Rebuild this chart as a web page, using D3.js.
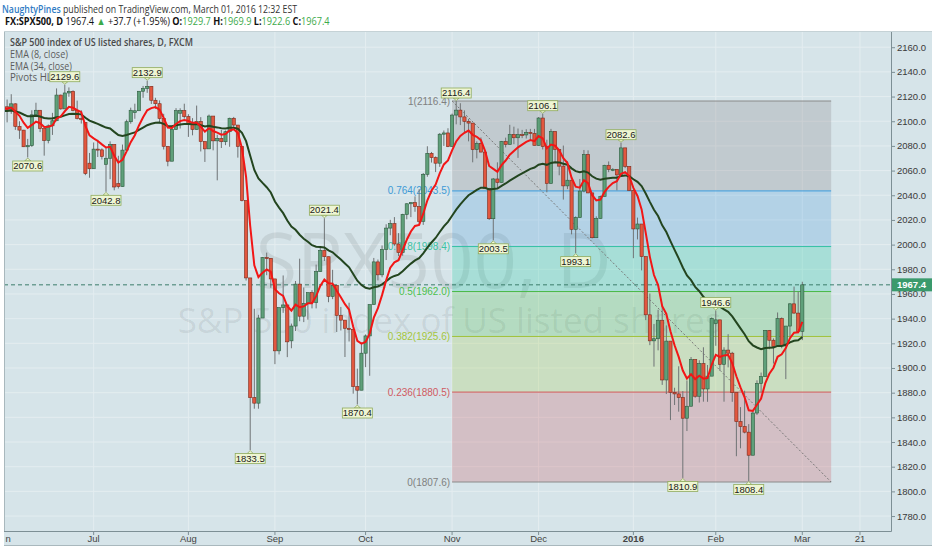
<!DOCTYPE html>
<html><head><meta charset="utf-8">
<script src="https://cdn.jsdelivr.net/npm/d3@7/dist/d3.min.js"></script>
<style>
body{margin:0;background:#fff;}
svg{display:block;}
</style></head>
<body>
<svg id="chart" width="932" height="550"></svg>
<script>
// ---------------- DATA ----------------
const firstDay = "2015-06-01";
const lastDay = "2016-03-01";
const axisEndDay = "2016-03-31";
const missingDays = ["2015-10-12", "2016-01-01"];

const opens = [
2107.4,2111.7,2109.6,2114.1,2095.8,2092.8,2079.3,2080.2,2105.2,2108.9,2094.1,2084.4,2096.3,2100.4,2121.2,2110.0,2122.9,2124.2,2108.6,2102.3,
2099.0,2066.0,2061.5,2077.4,2076.8,2065.0,2070.0,2081.3,2049.5,2047.0,2076.6,2099.6,2107.0,2108.5,2124.3,2126.6,2128.3,2117.0,2114.2,2102.2,
2079.7,2067.6,2093.3,2106.5,2108.6,2103.8,2098.0,2093.3,2099.8,2083.6,2077.6,2104.2,2084.1,2086.1,2083.4,2091.5,2102.4,2096.9,2079.6,2035.7,
1973.0,1876.0,1871.5,1940.5,1989.5,1988.9,1972.2,1913.9,1948.9,1951.1,1922.0,1934.0,1968.0,1942.0,1952.3,1961.1,1953.0,1978.1,1995.3,1990.2,
1958.0,1967.0,1942.7,1938.8,1932.2,1931.3,1885.0,1882.0,1912.0,1926.0,1951.4,1986.0,1975.5,1996.0,2013.4,2017.0,2000.5,1993.5,2024.5,2033.1,
2034.0,2030.8,2018.9,2057.0,2074.0,2070.5,2066.0,2089.5,2090.5,2079.4,2105.0,2109.0,2103.5,2099.9,2098.5,2077.0,2082.0,2075.0,2045.5,2021.0,
2053.2,2050.4,2083.6,2081.2,2089.2,2086.6,2089.1,2088.9,2091.0,2090.1,2080.4,2102.6,2079.5,2049.6,2091.7,2077.1,2063.6,2047.6,2052.2,2012.4,
2021.9,2043.4,2073.1,2041.9,2005.6,2021.2,2039.0,2064.3,2061.0,2061.0,2056.5,2078.4,2063.4,2043.9,2012.7,2016.7,1990.3,1943.1,1922.0,1923.7,
1938.7,1890.3,1921.8,1880.3,1879.0,1876.0,1859.3,1869.0,1906.9,1877.1,1903.6,1883.0,1893.4,1936.0,1939.0,1903.0,1914.5,1912.0,1880.0,1856.5,
1852.5,1848.0,1829.3,1863.5,1887.5,1893.0,1930.5,1922.5,1917.5,1940.0,1918.0,1934.0,1952.0,1944.5,1929.7];
const highs = [
2114.9,2117.6,2121.9,2114.5,2100.0,2093.0,2085.7,2108.9,2115.0,2108.9,2094.1,2097.4,2106.8,2126.6,2121.6,2129.6,2127.4,2125.1,2116.7,2108.9,
2099.0,2074.3,2082.8,2085.0,2078.0,2078.7,2083.7,2081.3,2072.0,2081.1,2101.3,2111.0,2114.2,2124.4,2128.6,2132.9,2128.3,2119.0,2116.9,2106.0,
2079.7,2095.6,2110.6,2110.5,2114.2,2105.7,2102.5,2112.7,2103.3,2083.6,2105.4,2104.2,2089.1,2092.9,2092.5,2102.9,2103.5,2096.9,2079.6,2035.7,
1973.0,1948.0,1943.1,1990.0,1993.5,1988.9,1972.2,1948.9,1975.0,1951.1,1936.0,1970.5,1988.6,1965.3,1961.1,1963.1,1983.8,1997.3,2021.4,1990.2,
1979.6,1967.0,1949.5,1938.8,1952.9,1931.3,1899.5,1920.5,1927.2,1951.4,1989.2,1987.9,1999.3,2016.5,2020.1,2022.3,2009.3,2025.0,2033.5,2034.5,
2039.1,2044.9,2058.0,2079.7,2075.1,2071.5,2090.4,2092.5,2094.3,2106.2,2116.4,2114.6,2108.8,2101.9,2098.5,2083.7,2086.9,2075.0,2046.0,2054.0,
2066.7,2084.0,2086.7,2097.1,2095.6,2094.1,2093.0,2093.5,2093.8,2093.8,2103.4,2106.1,2085.0,2093.8,2091.7,2077.1,2080.3,2067.7,2052.2,2022.9,
2053.2,2076.7,2076.4,2041.9,2022.9,2039.7,2064.7,2067.4,2062.0,2061.0,2082.6,2078.4,2063.4,2043.9,2021.9,2016.7,1990.3,1960.4,1935.7,1947.2,
1950.3,1934.5,1921.8,1884.0,1901.4,1881.3,1889.9,1908.9,1906.9,1906.3,1916.8,1902.4,1941.0,1946.6,1939.0,1916.8,1927.4,1913.1,1880.0,1868.3,
1881.6,1854.5,1864.8,1890.0,1896.3,1930.7,1930.8,1924.0,1945.0,1941.0,1932.1,1952.5,1966.0,1962.0,1969.9];
const lows = [
2099.2,2099.1,2106.0,2093.0,2085.7,2079.1,2070.6,2079.2,2104.5,2091.2,2072.1,2082.1,2088.9,2100.0,2109.4,2110.0,2119.8,2108.0,2101.5,2098.1,
2056.3,2054.2,2061.5,2071.0,2069.0,2042.8,2053.0,2044.0,2045.5,2047.0,2076.6,2098.0,2102.0,2108.5,2119.0,2123.0,2114.0,2110.0,2098.3,2077.1,
2063.5,2067.6,2093.3,2094.1,2102.1,2087.3,2088.6,2093.3,2075.5,2067.0,2077.6,2076.4,2052.1,2078.3,2080.6,2079.3,2094.1,2070.5,2035.0,1970.9,
1833.5,1867.0,1867.0,1940.5,1975.2,1965.0,1903.1,1911.0,1944.7,1908.8,1916.0,1930.0,1937.9,1937.2,1939.2,1948.3,1948.3,1977.9,1986.7,1953.3,
1955.8,1929.2,1930.4,1908.9,1921.5,1879.2,1870.4,1882.0,1900.7,1893.7,1951.4,1971.0,1973.5,1987.5,2007.6,1999.0,1990.7,1991.0,2020.5,2022.3,
2026.6,2017.2,2016.0,2055.0,2066.5,2058.8,2063.0,2080.0,2079.0,2079.4,2097.5,2096.9,2090.4,2083.7,2066.7,2069.9,2074.9,2045.4,2020.0,2003.5,
2045.9,2050.4,2078.8,2081.2,2081.4,2070.3,2086.3,2086.0,2085.0,2080.4,2080.4,2077.1,2042.4,2049.6,2066.8,2056.2,2036.5,2045.0,2008.3,1993.1,
2021.9,2042.4,2041.7,2005.0,2005.6,2021.2,2039.0,2058.7,2059.5,2044.0,2056.5,2062.0,2043.6,1989.0,2004.2,1979.1,1938.8,1918.5,1901.1,1914.3,
1886.3,1878.9,1857.8,1870.0,1864.6,1810.9,1848.9,1869.0,1875.9,1872.0,1872.7,1872.6,1893.4,1918.0,1897.8,1872.7,1900.5,1872.6,1828.5,1834.9,
1847.0,1808.4,1829.3,1862.0,1880.0,1893.0,1915.2,1903.6,1917.5,1916.0,1891.0,1925.0,1944.0,1929.0,1922.6];
const closes = [
2111.7,2109.6,2114.1,2095.8,2092.8,2079.3,2080.2,2105.2,2108.9,2094.1,2084.4,2096.3,2100.4,2121.2,2110.0,2122.9,2124.2,2108.6,2102.3,2101.5,
2057.6,2061.5,2077.4,2076.8,2071.5,2070.0,2081.3,2046.7,2047.0,2076.6,2099.6,2108.9,2108.5,2124.3,2126.6,2128.3,2117.0,2114.2,2102.2,2079.7,
2067.6,2093.3,2108.6,2108.6,2103.8,2098.0,2093.3,2099.8,2083.6,2077.6,2104.2,2084.1,2086.1,2083.4,2091.5,2102.4,2096.9,2079.6,2035.7,1973.0,
1876.0,1871.5,1940.5,1989.5,1988.9,1972.2,1913.9,1948.9,1951.1,1921.2,1934.0,1968.0,1942.0,1952.3,1961.1,1953.0,1978.1,1995.3,1990.2,1958.0,
1967.0,1942.7,1938.8,1932.2,1931.3,1885.0,1882.0,1912.0,1926.0,1951.4,1986.0,1975.5,1996.0,2013.4,2017.0,2000.5,1993.5,2024.5,2033.1,2034.0,
2030.8,2018.9,2057.0,2074.0,2070.5,2066.0,2089.5,2090.5,2079.4,2105.0,2109.0,2103.5,2099.9,2098.5,2077.0,2082.0,2075.0,2045.5,2021.0,2053.2,
2050.4,2083.6,2081.2,2089.2,2086.6,2089.1,2088.9,2091.0,2090.1,2080.4,2102.6,2079.5,2049.6,2091.7,2077.1,2063.6,2047.6,2052.2,2012.4,2021.9,
2043.4,2073.1,2041.9,2005.6,2021.2,2039.0,2064.3,2061.0,2061.0,2056.5,2078.4,2063.4,2043.9,2012.7,2016.7,1990.3,1943.1,1922.0,1923.7,1938.7,
1890.3,1921.8,1880.3,1879.0,1876.0,1859.3,1869.0,1906.9,1877.1,1903.6,1883.0,1893.4,1940.2,1939.0,1903.0,1914.5,1912.0,1880.0,1856.5,1852.5,
1848.0,1829.3,1863.5,1887.5,1893.0,1930.5,1922.5,1917.5,1940.0,1918.0,1934.0,1952.0,1944.5,1929.7,1967.4];

const emaSeed8 = 2110.0;   // EMA values at the left edge
const emaSeed34 = 2108.0;

const priceTicks = [1780,1800,1820,1840,1860,1880,1900,1920,1940,1960,1980,2000,2020,2040,2060,2080,2100,2120,2140,2160];
const timeTicks = [
  {date:"2015-06-01", label:"Jun"}, {date:"2015-07-01", label:"Jul"}, {date:"2015-08-03", label:"Aug"},
  {date:"2015-09-01", label:"Sep"}, {date:"2015-10-01", label:"Oct"}, {date:"2015-11-02", label:"Nov"},
  {date:"2015-12-01", label:"Dec"}, {date:"2016-01-04", label:"2016", bold:true}, {date:"2016-02-01", label:"Feb"},
  {date:"2016-03-01", label:"Mar"}, {date:"2016-03-21", label:"21"}];

const pivotHighs = [
  {date:"2015-06-22", value:2129.6}, {date:"2015-07-20", value:2132.9}, {date:"2015-09-17", value:2021.4},
  {date:"2015-11-03", value:2116.4}, {date:"2015-12-02", value:2106.1}, {date:"2015-12-29", value:2082.6},
  {date:"2016-02-01", value:1946.6}];
const pivotLows = [
  {date:"2015-06-09", value:2070.6}, {date:"2015-07-06", value:2042.8}, {date:"2015-08-24", value:1833.5},
  {date:"2015-09-29", value:1870.4}, {date:"2015-11-16", value:2003.5}, {date:"2015-12-14", value:1993.1},
  {date:"2016-01-20", value:1810.9}, {date:"2016-02-11", value:1808.4}];

const fibStart = {date:"2015-11-02", value:2116.4};
const fibEnd = {date:"2016-03-10", value:1807.6};
const fibRatios = [1, 0.764, 0.618, 0.5, 0.382, 0.236, 0];
const fibLineColors = ["#8a8a8a","#3a9ee0","#36c2a6","#4cba4a","#a0c23a","#d0585a","#8a8a8a"];
const fibZoneColors = ["rgba(120,110,112,0.22)","rgba(40,140,220,0.2)","rgba(0,200,150,0.22)","rgba(60,185,50,0.22)","rgba(160,200,50,0.22)","rgba(200,60,70,0.22)"];
const fibLabelColors = ["#808080","#3d9ad6","#3cc2a2","#4cbf4c","#a5c63c","#d05a62","#808080"];

const symbolName = "FX:SPX500, D";
const author = "NaughtyPines";
const publishLine = " published on TradingView.com, March 01, 2016 12:32 EST";
const legendLines = ["S&P 500 index of US listed shares, D, FXCM", "EMA (8, close)", "EMA (34, close)", "Pivots HL"];
const legendWidths = [183, 58, 62, 42];
const watermark1 = "SPX500, D";
const watermark2 = "S&P 500 index of US listed shares";

// ---------------- BUILD ----------------
const fmtDay = d3.timeFormat("%Y-%m-%d");
const parseDay = d3.timeParse("%Y-%m-%d");
const allDays = d3.timeDay.range(parseDay(firstDay), d3.timeDay.offset(parseDay(axisEndDay),1))
  .filter(d => d.getDay() !== 0 && d.getDay() !== 6 && !missingDays.includes(fmtDay(d)));
const dayIndex = new Map(allDays.map((d,i)=>[fmtDay(d), i]));
const lastIndex = dayIndex.get(lastDay);

const bars = closes.map((c,i)=>({i, o:opens[i], h:highs[i], l:lows[i], c}));

const pane = {left:4, right:891, top:31, bottom:531};
const x = d3.scaleLinear().domain([0, lastIndex]).range([3, 802.3]);
const y = d3.scaleLinear().domain([1807.6, 2116.4]).range([482, 101]);
const xd = s => x(dayIndex.get(s));

const svg = d3.select("#chart");
const FONT = "'Open Sans','Noto Sans',sans-serif";
const AX = "'Liberation Sans',Arial,sans-serif";

// squeeze a text horizontally to a target width (the reference uses a condensed UI font)
function fitWidth(sel, x0, target){
  const len = sel.node().getComputedTextLength();
  if (len > target) sel.attr("transform", `translate(${x0},0) scale(${target/len},1) translate(${-x0},0)`);
}

// backgrounds
svg.append("rect").attr("width",932).attr("height",550).attr("fill","#ffffff");
svg.append("rect").attr("x",pane.left).attr("y",pane.top).attr("width",932-pane.left).attr("height",545-pane.top).attr("fill","#d6e4e9");

const defs = svg.append("defs");
defs.append("clipPath").attr("id","paneClip").append("rect")
  .attr("x",pane.left).attr("y",pane.top).attr("width",pane.right-pane.left).attr("height",pane.bottom-pane.top);
defs.append("clipPath").attr("id","axisClip").append("rect")
  .attr("x",pane.left+1).attr("y",pane.bottom).attr("width",pane.right-pane.left).attr("height",16);

const g = svg.append("g").attr("clip-path","url(#paneClip)");

// grid
g.selectAll(".hg").data(priceTicks).join("line")
  .attr("x1",pane.left).attr("x2",pane.right).attr("y1",d=>y(d)).attr("y2",d=>y(d))
  .attr("stroke","#e4edf0").attr("stroke-width",1);
g.selectAll(".vg").data(timeTicks).join("line")
  .attr("x1",d=>xd(d.date)).attr("x2",d=>xd(d.date)).attr("y1",pane.top).attr("y2",pane.bottom)
  .attr("stroke","#e4edf0").attr("stroke-width",1);

// watermark
const cx = (pane.left+pane.right)/2;
g.append("text").attr("x",cx-14).attr("y",288).attr("text-anchor","middle")
  .attr("font-family",FONT).attr("font-size",76).attr("fill","#000").attr("fill-opacity",0.08).text(watermark1);
g.append("text").attr("x",cx+2).attr("y",333).attr("text-anchor","middle")
  .attr("font-family",FONT).attr("font-size",35).attr("fill","#000").attr("fill-opacity",0.08).text(watermark2);

// fib retracement
const fx1 = xd(fibStart.date), fx2 = xd(fibEnd.date);
const fibVals = fibRatios.map(r => fibEnd.value + r*(fibStart.value - fibEnd.value));
const zones = d3.pairs(fibVals).map((p,k)=>({top:p[0], bot:p[1], color:fibZoneColors[k]}));
g.selectAll(".fz").data(zones).join("rect")
  .attr("x",fx1).attr("width",fx2-fx1).attr("y",d=>y(d.top)).attr("height",d=>y(d.bot)-y(d.top))
  .attr("fill",d=>d.color);
g.selectAll(".fl").data(fibVals).join("line")
  .attr("x1",fx1).attr("x2",fx2).attr("y1",d=>y(d)).attr("y2",d=>y(d))
  .attr("stroke",(d,k)=>fibLineColors[k]).attr("stroke-width",1);
g.selectAll(".ft").data(fibVals).join("text")
  .attr("x",fx1-2).attr("y",d=>y(d)+3.5).attr("text-anchor","end")
  .attr("font-family",AX).attr("font-size",10).attr("fill",(d,k)=>fibLabelColors[k])
  .text((d,k)=>`${fibRatios[k]}(${d.toFixed(1)})`);
g.append("line").attr("x1",fx1).attr("y1",y(fibStart.value)).attr("x2",fx2).attr("y2",y(fibEnd.value))
  .attr("stroke","#777").attr("stroke-width",1).attr("stroke-dasharray","2,2");

// price line
const last = bars[bars.length-1];
g.append("line").attr("x1",pane.left).attr("x2",pane.right).attr("y1",y(last.c)).attr("y2",y(last.c))
  .attr("stroke","#3b7d6a").attr("stroke-width",1).attr("stroke-dasharray","4,3");

// candles
const bw = 3.2;
g.selectAll(".wick").data(bars).join("line")
  .attr("x1",d=>x(d.i)).attr("x2",d=>x(d.i)).attr("y1",d=>y(d.h)).attr("y2",d=>y(d.l))
  .attr("stroke","#6f7375").attr("stroke-width",1);
g.selectAll(".body").data(bars).join("rect")
  .attr("x",d=>x(d.i)-bw/2).attr("width",bw)
  .attr("y",d=>y(Math.max(d.o,d.c))).attr("height",d=>Math.max(1,Math.abs(y(d.o)-y(d.c))))
  .attr("fill",d=>d.c>=d.o?"#5fa07a":"#e2573f")
  .attr("stroke",d=>d.c>=d.o?"#2c5a3d":"#7c2a1c").attr("stroke-width",0.6);

// EMAs
function ema(vals, n, seed){ const a=2/(n+1); let e=seed; return vals.map(v=> (e = a*v + (1-a)*e)); }
const ema8 = ema(closes, 8, emaSeed8), ema34 = ema(closes, 34, emaSeed34);
const line = d3.line().x((d,i)=>x(i)).y(d=>y(d));
g.append("path").attr("d",line(ema34)).attr("fill","none").attr("stroke","#23451f").attr("stroke-width",2);
g.append("path").attr("d",line(ema8)).attr("fill","none").attr("stroke","#f21616").attr("stroke-width",2);

// legend (below pivot labels in z-order)
legendLines.forEach((t,k)=>{
  const tx = g.append("text").attr("x",10).attr("y",46+k*11.8).attr("font-family",FONT)
    .attr("font-size",k===0?10.5:11).attr("font-weight",k===0?600:400).attr("fill",k===0?"#4a4a4a":"#5c5c5c").text(t);
  fitWidth(tx, 10, legendWidths[k]);
});

// pivot labels
function pivotLabel(p, isHigh){
  const px = xd(p.date), py = y(p.value);
  const w = 30, h = 10;
  const gg = g.append("g");
  const by = isHigh ? py-3-h : py+3.5;
  const tri = isHigh ? `M${px-3},${by+h} L${px},${py-0.5} L${px+3},${by+h} Z` : `M${px-3},${by} L${px},${py+0.5} L${px+3},${by} Z`;
  gg.append("path").attr("d",tri).attr("fill","#eef5d3").attr("stroke","#8fab5c").attr("stroke-width",0.8);
  gg.append("rect").attr("x",px-w/2).attr("y",by).attr("width",w).attr("height",h)
    .attr("fill","#eef5d3").attr("stroke","#8fab5c").attr("stroke-width",0.8);
  gg.append("text").attr("x",px).attr("y",by+h-1.8).attr("text-anchor","middle")
    .attr("font-family",AX).attr("font-size",9.5).attr("fill","#1a1a1a").text(p.value.toFixed(1));
}
pivotHighs.forEach(p=>pivotLabel(p,true));
pivotLows.forEach(p=>pivotLabel(p,false));

// axes frame
svg.append("line").attr("x1",pane.right+0.5).attr("x2",pane.right+0.5).attr("y1",pane.top).attr("y2",pane.bottom+0.5).attr("stroke","#7d8f95");
svg.append("line").attr("x1",pane.left).attr("x2",pane.right+0.5).attr("y1",pane.bottom+0.5).attr("y2",pane.bottom+0.5).attr("stroke","#7d8f95");
svg.append("line").attr("x1",pane.left+0.5).attr("x2",pane.left+0.5).attr("y1",pane.top).attr("y2",pane.bottom).attr("stroke","#a9b8bd");
svg.append("line").attr("x1",pane.left).attr("x2",932).attr("y1",pane.top+0.5).attr("y2",pane.top+0.5).attr("stroke","#c5d2d6");
svg.append("line").attr("x1",pane.left).attr("x2",932).attr("y1",545.5).attr("y2",545.5).attr("stroke","#a9b8bd");

// right axis
const ra = svg.append("g");
ra.selectAll("line").data(priceTicks).join("line")
  .attr("x1",pane.right).attr("x2",pane.right+4).attr("y1",d=>y(d)+0.5).attr("y2",d=>y(d)+0.5).attr("stroke","#7d8f95");
ra.selectAll("text").data(priceTicks).join("text")
  .attr("x",897).attr("y",d=>y(d)+3.5).attr("font-family",AX).attr("font-size",9.5).attr("fill","#3a3a3a")
  .text(d=>d.toFixed(1));
ra.append("rect").attr("x",pane.right+1).attr("y",y(last.c)-6.5).attr("width",932-pane.right-1).attr("height",13).attr("fill","#3a9a6c");
ra.append("text").attr("x",897).attr("y",y(last.c)+3.5).attr("font-family",AX).attr("font-size",9.5)
  .attr("font-weight","bold").attr("fill","#fff").text(last.c.toFixed(1));

// bottom axis
const ba = svg.append("g").attr("clip-path","url(#axisClip)");
ba.selectAll("line").data(timeTicks).join("line")
  .attr("x1",d=>xd(d.date)).attr("x2",d=>xd(d.date)).attr("y1",pane.bottom).attr("y2",pane.bottom+4).attr("stroke","#7d8f95");
ba.selectAll("text").data(timeTicks).join("text")
  .attr("x",d=>xd(d.date)).attr("y",542).attr("text-anchor","middle").attr("font-family",AX).attr("font-size",9.5)
  .attr("font-weight",d=>d.bold?"bold":"normal").attr("fill","#444").text(d=>d.label);

// header
const prev = bars[bars.length-2];
const chg = last.c - prev.c, pct = chg/prev.c*100;
const h1 = svg.append("text").attr("x",2).attr("y",13).attr("font-family",FONT).attr("font-size",10.8);
h1.append("tspan").attr("fill","#2f7bc4").attr("font-weight",600).text(author);
h1.append("tspan").attr("fill","#333").text(publishLine);
fitWidth(h1, 2, 295);
const h2 = svg.append("text").attr("x",5).attr("y",25).attr("font-family",FONT).attr("font-size",10.5);
const green = "#3daa4a";
h2.append("tspan").attr("font-weight","bold").attr("fill","#111").text(symbolName);
h2.append("tspan").attr("fill","#111").text(" "+last.c.toFixed(1)+" ");
h2.append("tspan").attr("fill",green).text("▲");
h2.append("tspan").attr("fill","#111").text(` +${chg.toFixed(1)} (+${pct.toFixed(2)}%)`);
[["O:",last.o],["H:",last.h],["L:",last.l],["C:",last.c]].forEach(([k,v])=>{
  h2.append("tspan").attr("font-weight","bold").attr("fill","#111").text(" "+k);
  h2.append("tspan").attr("fill",green).text(v.toFixed(1));
});
fitWidth(h2, 5, 325);
</script>
</body></html>
